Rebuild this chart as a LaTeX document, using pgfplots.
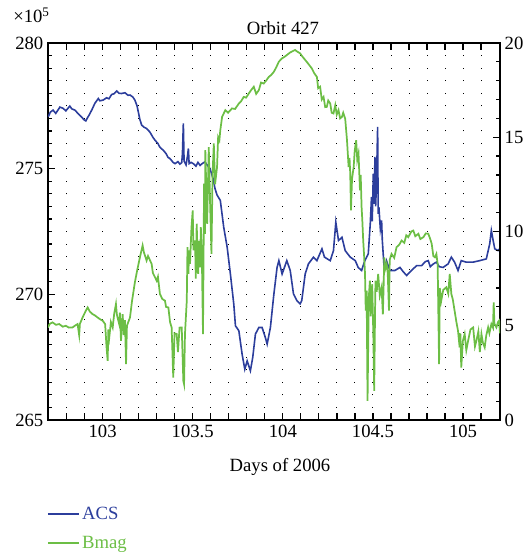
\documentclass[border=0pt]{standalone}
\usepackage{fontspec}
\setmainfont{Liberation Serif}
\usepackage{pgfplots}
\pgfplotsset{compat=1.18}
\definecolor{acs}{RGB}{44,62,156}
\definecolor{bmag}{RGB}{108,190,69}
\newcommand{\fs}{\fontsize{14}{16.8}\selectfont}
\begin{document}
\begin{tikzpicture}
\path (0,0) rectangle (396.75pt,417.75pt);
\pgfplotsset{
  common/.style={
    scale only axis, width=339pt, height=282.75pt,
    at={(36pt,102.75pt)}, anchor=south west,
    xmin=102.697, xmax=105.205,
    tick label style={font=\fs},
    /pgf/number format/assume math mode=true,
    major tick length=5.25pt, minor tick length=3pt,
    every tick/.style={black, line width=0.9pt},
    axis line style={black, line width=0.9pt},
  }
}
\begin{axis}[common,
  ymin=265, ymax=280,
  ytick={265,270,275,280}, minor y tick num=9,
  ytick pos=left,
  xtick={102.7,102.8,102.9,103,103.1,103.2,103.3,103.4,103.5,103.6,103.7,103.8,103.9,104,104.1,104.2,104.3,104.4,104.5,104.6,104.7,104.8,104.9,105,105.1,105.2},
  xticklabels={,,,103,,,,,103.5,,,,,104,,,,,104.5,,,,,105,,},
  xmajorgrids,
  major grid style={black, line width=0.7pt, dash pattern=on 0.7pt off 8.725pt, dash phase=0.35pt},
  legend style={draw=none, fill=none, font=\fs, at={(-0.012,-0.215)}, anchor=north west, row sep=7.2pt,
    /tikz/every even column/.append style={column sep=6pt}},
  legend cell align=left,
  legend image code/.code={\draw[#1, line width=1.5pt] (0pt,0pt) -- (23pt,0pt);},
]
\addplot[acs, line width=1.2pt] table {
102.698 277.06
102.710 277.25
102.725 277.33
102.740 277.20
102.763 277.45
102.781 277.40
102.796 277.30
102.818 277.49
102.829 277.38
102.846 277.33
102.863 277.20
102.883 277.06
102.896 276.95
102.907 276.90
102.918 277.05
102.925 277.13
102.941 277.35
102.957 277.60
102.976 277.79
102.985 277.70
103.003 277.73
103.022 277.82
103.035 277.78
103.050 277.95
103.063 277.98
103.078 278.09
103.091 278.00
103.105 277.99
103.124 278.02
103.141 277.92
103.152 277.93
103.168 277.85
103.179 277.73
103.191 277.50
103.198 277.26
103.207 276.95
103.217 276.73
103.230 276.65
103.244 276.60
103.263 276.45
103.279 276.25
103.291 276.13
103.307 276.00
103.318 275.85
103.337 275.73
103.352 275.60
103.363 275.45
103.374 275.40
103.391 275.25
103.402 275.20
103.418 275.28
103.429 275.18
103.439 275.24
103.443 275.60
103.448 276.80
103.452 275.30
103.463 275.15
103.471 275.50
103.476 275.80
103.480 275.20
103.491 275.25
103.503 275.20
103.518 275.10
103.529 275.25
103.541 275.13
103.552 275.20
103.568 275.27
103.574 275.20
103.596 275.00
103.613 274.60
103.624 274.20
103.635 273.95
103.653 273.74
103.672 272.67
103.691 271.88
103.709 270.81
103.728 269.60
103.737 268.75
103.756 268.55
103.774 267.62
103.789 267.02
103.802 267.35
103.820 266.96
103.833 267.49
103.848 268.42
103.867 268.68
103.885 268.68
103.903 268.28
103.913 268.02
103.931 268.68
103.950 269.99
103.968 271.07
103.978 271.34
103.996 270.81
104.003 270.95
104.022 271.34
104.041 270.95
104.059 270.02
104.078 269.75
104.096 269.62
104.105 269.75
104.124 270.81
104.142 271.21
104.170 271.48
104.189 271.34
104.217 271.81
104.231 271.48
104.263 271.34
104.281 271.74
104.294 272.87
104.309 272.14
104.328 272.27
104.346 271.74
104.374 271.48
104.402 271.34
104.418 271.07
104.437 270.95
104.455 271.34
104.474 271.61
104.485 272.80
104.492 273.87
104.496 272.90
104.502 274.80
104.507 273.60
104.511 275.47
104.515 273.50
104.520 274.54
104.526 276.66
104.529 273.20
104.533 273.47
104.541 272.60
104.548 272.94
104.552 272.14
104.557 271.60
104.563 270.95
104.575 271.34
104.594 270.95
104.622 270.95
104.650 271.07
104.668 270.90
104.687 270.75
104.714 270.95
104.742 271.14
104.770 271.14
104.790 271.30
104.807 271.34
104.818 271.10
104.835 271.21
104.852 271.28
104.868 271.10
104.889 271.07
104.917 271.21
104.935 271.48
104.953 271.28
104.972 270.95
104.990 271.34
105.018 271.28
105.055 271.28
105.092 271.34
105.129 271.41
105.148 272.01
105.157 272.54
105.167 272.14
105.176 271.81
105.194 271.74
105.203 271.81
};
\addlegendentry{\textcolor{acs}{ACS}}
\addlegendimage{color=bmag, line width=1.5pt}
\addlegendentry{\textcolor{bmag}{Bmag}}
\end{axis}
\begin{axis}[common,
  ymin=0, ymax=20,
  ytick={0,5,10,15,20}, minor y tick num=4,
  axis y line*=right, axis x line=none,
]
\addplot[bmag, line width=1.3pt] table {
102.696 4.90
102.707 5.10
102.722 5.18
102.741 5.05
102.759 5.09
102.779 4.95
102.796 5.00
102.813 4.90
102.833 4.91
102.846 5.00
102.861 5.09
102.870 4.50
102.874 5.10
102.889 5.44
102.907 5.80
102.917 5.97
102.929 5.75
102.944 5.62
102.957 5.55
102.972 5.44
102.985 5.35
103.000 5.27
103.014 5.09
103.022 3.85
103.028 3.14
103.032 4.80
103.037 4.38
103.046 5.20
103.056 4.91
103.064 5.62
103.074 6.15
103.079 5.60
103.083 5.44
103.092 5.09
103.096 5.70
103.102 4.20
103.111 5.62
103.118 4.50
103.124 5.30
103.130 2.96
103.135 5.00
103.152 5.44
103.163 6.30
103.179 7.30
103.191 7.90
103.207 8.63
103.222 9.26
103.229 8.90
103.244 8.46
103.252 8.70
103.272 8.28
103.279 7.80
103.300 7.39
103.307 7.60
103.318 6.69
103.331 6.42
103.346 6.33
103.352 6.00
103.365 5.97
103.374 5.20
103.383 4.91
103.392 2.25
103.399 4.60
103.411 4.56
103.418 3.60
103.427 4.90
103.439 4.91
103.448 2.07
103.452 1.90
103.457 4.56
103.467 6.33
103.471 9.17
103.476 7.75
103.480 9.00
103.485 8.28
103.493 10.20
103.500 11.12
103.504 9.00
103.513 9.52
103.517 7.50
103.522 10.41
103.530 7.75
103.535 9.50
103.541 8.10
103.545 10.23
103.550 9.17
103.557 4.56
103.563 12.54
103.568 9.88
103.570 14.31
103.580 10.41
103.589 14.48
103.596 11.65
103.604 8.81
103.610 13.00
103.617 14.67
103.624 12.50
103.635 13.42
103.641 15.00
103.648 14.84
103.653 15.37
103.663 16.08
103.681 16.44
103.696 16.30
103.718 16.53
103.735 16.50
103.756 16.79
103.768 16.90
103.783 17.14
103.796 17.10
103.811 17.32
103.824 17.50
103.839 17.68
103.852 17.30
103.867 17.50
103.879 17.90
103.894 17.85
103.907 18.00
103.922 18.20
103.935 18.30
103.950 18.47
103.963 18.70
103.978 19.01
103.996 19.19
104.007 19.25
104.022 19.36
104.041 19.50
104.068 19.63
104.079 19.55
104.096 19.45
104.107 19.30
104.124 19.10
104.141 18.90
104.161 18.65
104.174 18.40
104.189 18.20
104.196 17.60
104.207 17.68
104.216 17.00
104.226 17.14
104.235 16.60
104.244 16.61
104.252 16.95
104.263 16.79
104.271 16.30
104.281 16.26
104.291 16.70
104.299 16.20
104.309 16.44
104.318 16.00
104.328 16.08
104.335 16.30
104.346 15.99
104.356 14.84
104.365 13.42
104.370 13.90
104.374 13.07
104.378 11.12
104.384 12.80
104.393 13.42
104.399 14.30
104.407 14.84
104.413 13.80
104.420 14.13
104.428 12.18
104.432 13.00
104.437 11.29
104.441 10.60
104.446 9.52
104.451 8.70
104.456 7.75
104.460 5.80
104.465 6.86
104.470 1.01
104.477 6.50
104.483 7.39
104.488 5.50
104.492 6.69
104.496 7.20
104.502 4.56
104.507 1.54
104.512 6.00
104.514 7.39
104.521 6.80
104.529 7.75
104.538 6.60
104.548 7.04
104.555 5.60
104.559 7.00
104.563 8.63
104.568 8.00
104.576 8.28
104.582 7.80
104.589 5.80
104.593 8.50
104.603 8.81
104.618 8.60
104.631 9.17
104.646 9.30
104.659 9.52
104.674 9.40
104.685 9.80
104.696 9.70
104.713 10.00
104.724 10.05
104.735 9.75
104.752 9.88
104.763 9.60
104.780 9.70
104.793 9.90
104.807 9.88
104.818 9.60
104.826 9.35
104.835 8.70
104.844 8.63
104.852 8.81
104.859 8.28
104.867 2.96
104.871 7.00
104.879 6.33
104.890 6.90
104.907 7.04
104.918 6.70
104.926 7.75
104.935 6.69
104.943 6.40
104.953 5.80
104.963 5.20
104.972 4.73
104.981 3.85
104.985 4.60
104.990 2.78
104.999 4.20
105.009 4.56
105.018 3.70
105.028 4.20
105.041 4.80
105.056 4.91
105.066 3.90
105.074 4.20
105.085 4.70
105.093 3.60
105.102 4.56
105.110 4.10
105.120 3.85
105.129 4.50
105.139 4.91
105.146 4.60
105.157 5.09
105.166 4.90
105.170 6.24
105.174 5.10
105.185 4.91
105.194 5.20
105.200 5.27
105.205 4.60
};
\end{axis}
\node[anchor=base, font=\fs] at (212.25pt,391.5pt) {Orbit 427};
\node[anchor=base west, font=\fs, inner sep=0pt] at (9.75pt,400.5pt) {×10\textsuperscript{5}};
\node[anchor=base, font=\fs] at (210pt,64pt) {Days of 2006};
\end{tikzpicture}
\end{document}
